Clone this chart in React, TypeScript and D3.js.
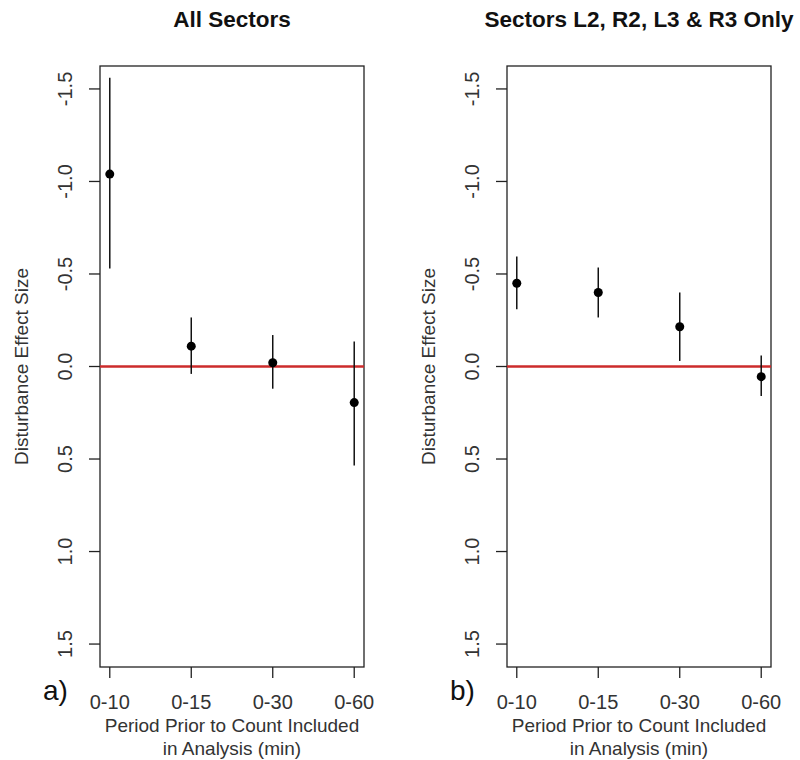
// Tamaño del efecto de perturbación por periodo previo al conteo
// Dos paneles: todos los sectores / solo L2, R2, L3 y R3
import { useRef, useEffect } from 'react'
import * as d3 from 'd3'

const periodos = ['0-10', '0-15', '0-30', '0-60']

// panel a) todos los sectores
const todosEst = [-1.04, -0.11, -0.02, 0.195]
const todosInf = [-1.56, -0.265, -0.17, -0.135]
const todosSup = [-0.53, 0.04, 0.12, 0.535]

// panel b) sectores L2, R2, L3 & R3
const sectEst = [-0.45, -0.40, -0.215, 0.055]
const sectInf = [-0.595, -0.535, -0.40, -0.06]
const sectSup = [-0.31, -0.265, -0.03, 0.16]

const yTicks = [-1.5, -1.0, -0.5, 0.0, 0.5, 1.0, 1.5]

const FONT = '"Liberation Sans", Arial, Helvetica, sans-serif'

const paneles = [
  { titulo: 'All Sectors', letra: 'a)', left: 100, est: todosEst, inf: todosInf, sup: todosSup },
  { titulo: 'Sectors L2, R2, L3 & R3 Only', letra: 'b)', left: 507, est: sectEst, inf: sectInf, sup: sectSup },
]

export default function App() {
  const svgRef = useRef<SVGSVGElement>(null)

  useEffect(() => {
    const svg = d3.select(svgRef.current)
    svg.selectAll('*').remove()

    const top = 66, bottom = 667, ancho = 264

    const y = d3.scaleLinear().domain([-1.624, 1.624]).range([top, bottom])

    paneles.forEach(p => {
      const x = d3.scaleLinear().domain([0.88, 4.12]).range([p.left, p.left + ancho])
      const g = svg.append('g')
      const cx = p.left + ancho / 2

      // título
      g.append('text')
        .attr('x', cx).attr('y', 27)
        .attr('text-anchor', 'middle')
        .attr('font-size', '22.5px').attr('font-weight', 'bold')
        .attr('fill', '#111')
        .text(p.titulo)

      // caja
      g.append('rect')
        .attr('x', p.left).attr('y', top)
        .attr('width', ancho).attr('height', bottom - top)
        .attr('fill', 'none').attr('stroke', '#222').attr('stroke-width', 1.3)

      // eje y
      g.selectAll('line.ytick')
        .data(yTicks)
        .join('line')
        .attr('class', 'ytick')
        .attr('x1', p.left - 11).attr('x2', p.left)
        .attr('y1', d => y(d)).attr('y2', d => y(d))
        .attr('stroke', '#222').attr('stroke-width', 1.3)

      g.selectAll('text.ylab')
        .data(yTicks)
        .join('text')
        .attr('class', 'ylab')
        .attr('transform', d => `translate(${p.left - 28}, ${y(d)}) rotate(-90)`)
        .attr('text-anchor', 'middle')
        .attr('font-size', '20px')
        .attr('fill', '#333')
        .text(d => d.toFixed(1))

      g.append('text')
        .attr('transform', `translate(${p.left - 72}, ${(top + bottom) / 2}) rotate(-90)`)
        .attr('text-anchor', 'middle')
        .attr('font-size', '19px')
        .attr('fill', '#333')
        .text('Disturbance Effect Size')

      // eje x
      g.selectAll('line.xtick')
        .data(periodos)
        .join('line')
        .attr('class', 'xtick')
        .attr('x1', (d, i) => x(i + 1)).attr('x2', (d, i) => x(i + 1))
        .attr('y1', bottom).attr('y2', bottom + 11)
        .attr('stroke', '#222').attr('stroke-width', 1.3)

      g.selectAll('text.xlab')
        .data(periodos)
        .join('text')
        .attr('class', 'xlab')
        .attr('x', (d, i) => x(i + 1)).attr('y', 709)
        .attr('text-anchor', 'middle')
        .attr('font-size', '20px')
        .attr('fill', '#333')
        .text(d => d)

      g.append('text')
        .attr('x', cx).attr('y', 732)
        .attr('text-anchor', 'middle')
        .attr('font-size', '19px').attr('fill', '#333')
        .text('Period Prior to Count Included')
      g.append('text')
        .attr('x', cx).attr('y', 755)
        .attr('text-anchor', 'middle')
        .attr('font-size', '19px').attr('fill', '#333')
        .text('in Analysis (min)')

      // letra del panel
      g.append('text')
        .attr('x', p.left - 57).attr('y', 700)
        .attr('font-size', '28px').attr('fill', '#111')
        .text(p.letra)

      // línea de referencia en cero
      g.append('line')
        .attr('x1', p.left).attr('x2', p.left + ancho)
        .attr('y1', y(0)).attr('y2', y(0))
        .attr('stroke', '#cc2b2b').attr('stroke-width', 2.5)

      // barras de error
      g.selectAll('line.err')
        .data(p.est)
        .join('line')
        .attr('class', 'err')
        .attr('x1', (d, i) => x(i + 1)).attr('x2', (d, i) => x(i + 1))
        .attr('y1', (d, i) => y(p.inf[i])).attr('y2', (d, i) => y(p.sup[i]))
        .attr('stroke', '#111').attr('stroke-width', 1.5)

      // estimaciones
      g.selectAll('circle')
        .data(p.est)
        .join('circle')
        .attr('cx', (d, i) => x(i + 1))
        .attr('cy', d => y(d))
        .attr('r', 4.5)
        .attr('fill', '#000')
    })
  }, [])

  return (
    <svg
      ref={svgRef}
      width={800}
      height={760}
      style={{ position: 'absolute', left: 0, top: 0, background: '#fff', fontFamily: FONT }}
    />
  )
}
